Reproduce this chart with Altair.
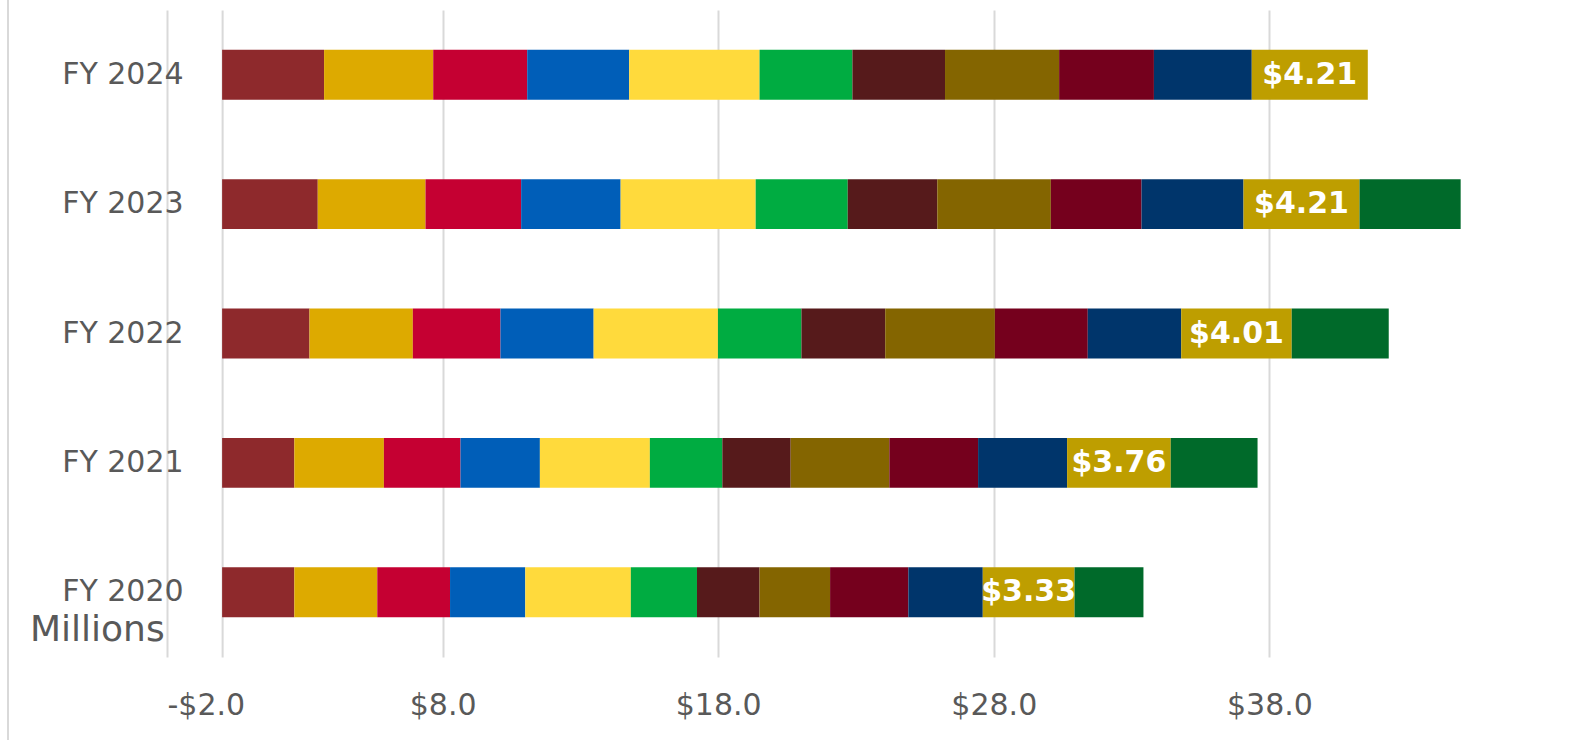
import altair as alt
import pandas as pd

# ---------------- data ----------------
years = ["FY 2024", "FY 2023", "FY 2022", "FY 2021", "FY 2020"]
segment_names = [f"Segment {i}" for i in range(1, 13)]
segment_colors = ["#8E292C", "#DDAA00", "#C50032", "#005EB8", "#FFDA3C", "#00AC41",
                  "#561A1B", "#846500", "#75001D", "#00356B", "#BE9E00", "#006A2A"]

# values in $ millions, one list per segment, ordered like `years`
s1 = [3.70, 3.47, 3.17, 2.62, 2.62]
s2 = [3.96, 3.91, 3.75, 3.25, 3.01]
s3 = [3.41, 3.47, 3.18, 2.78, 2.64]
s4 = [3.70, 3.61, 3.38, 2.88, 2.73]
s5 = [4.73, 4.90, 4.51, 3.99, 3.83]
s6 = [3.37, 3.34, 3.03, 2.63, 2.40]
s7 = [3.36, 3.25, 3.04, 2.48, 2.27]
s8 = [4.14, 4.12, 3.98, 3.58, 2.56]
s9 = [3.44, 3.29, 3.37, 3.22, 2.84]
s10 = [3.55, 3.70, 3.39, 3.23, 2.70]
s11 = [4.21, 4.21, 4.01, 3.76, 3.33]
s12 = [None, 3.67, 3.52, 3.15, 2.50]
series = [s1, s2, s3, s4, s5, s6, s7, s8, s9, s10, s11, s12]

labeled_segment = "Segment 11"
x_ticks = [-2, 8, 18, 28, 38]
x_domain = [-2, 48]
axis_note = "Millions"

rows = []
for i, (name, vals) in enumerate(zip(segment_names, series)):
    for yr, v in zip(years, vals):
        if v is not None:
            rows.append({"year": yr, "segment": name, "idx": i, "value": v})
df = pd.DataFrame(rows)

# ---------------- layout ----------------
W, H = 1378, 647
PAD_L, PAD_T = 167, 10
px_per_unit = W / (x_domain[1] - x_domain[0])
zero_offset = (0 - x_domain[0]) * px_per_unit

FONT = "DejaVu Sans"
GREY = "#595959"
GRID = "#D9D9D9"

xscale = alt.Scale(domain=x_domain, nice=False, zero=False)
yscale = alt.Scale(paddingInner=0.614, paddingOuter=0.307)

base = alt.Chart(df).transform_stack(
    stack="value",
    groupby=["year"],
    as_=["x0", "x1"],
    sort=[alt.SortField("idx", order="ascending")],
)

bars = base.mark_bar().encode(
    x=alt.X(
        "x0:Q",
        scale=xscale,
        axis=alt.Axis(
            values=x_ticks,
            labelExpr="(datum.value < 0 ? '-$' : '$') + format(abs(datum.value), '.1f')",
            grid=True, gridColor=GRID, gridWidth=2,
            domain=False, ticks=False, tickSize=0,
            labelFontSize=30, labelColor=GREY, labelFont=FONT,
            labelPadding=33, title=None,
        ),
    ),
    x2="x1:Q",
    y=alt.Y(
        "year:N",
        sort=years,
        scale=yscale,
        axis=alt.Axis(
            offset=-zero_offset,
            domain=True, domainColor=GRID, domainWidth=2,
            ticks=False, tickSize=0, grid=False,
            labelFontSize=30, labelColor=GREY, labelFont=FONT,
            labelPadding=39, title=None,
        ),
    ),
    color=alt.Color("segment:N", scale=alt.Scale(domain=segment_names, range=segment_colors), legend=None),
)

labels = base.transform_filter(
    alt.datum.segment == labeled_segment
).transform_calculate(
    mid="(datum.x0 + datum.x1) / 2",
    label="'$' + format(datum.value, '.2f')",
).mark_text(
    color="white", fontWeight="bold", fontSize=30, font=FONT,
    align="center", baseline="middle",
).encode(
    x=alt.X("mid:Q", scale=xscale),
    y=alt.Y("year:N", sort=years, scale=yscale),
    text="label:N",
)

border = alt.Chart(pd.DataFrame({"a": [0]})).mark_rule(color=GRID, strokeWidth=2).encode(
    x=alt.value(8 - PAD_L), y=alt.value(-PAD_T), y2=alt.value(740 - PAD_T)
)

millions = alt.Chart(pd.DataFrame({"t": [axis_note]})).mark_text(
    align="left", baseline="middle", fontSize=36, font=FONT, color=GREY
).encode(
    x=alt.value(30 - PAD_L), y=alt.value(630 - PAD_T), text="t:N"
)

chart = alt.layer(border, bars, labels, millions).properties(
    width=W,
    height=H,
    autosize=alt.AutoSizeParams(type="none"),
    padding={"left": PAD_L, "top": PAD_T, "right": 1582 - PAD_L - W, "bottom": 740 - PAD_T - H},
    background="white",
).configure_view(strokeWidth=0)

chart.save("out.html", embed_options={"renderer": "svg", "actions": False})
